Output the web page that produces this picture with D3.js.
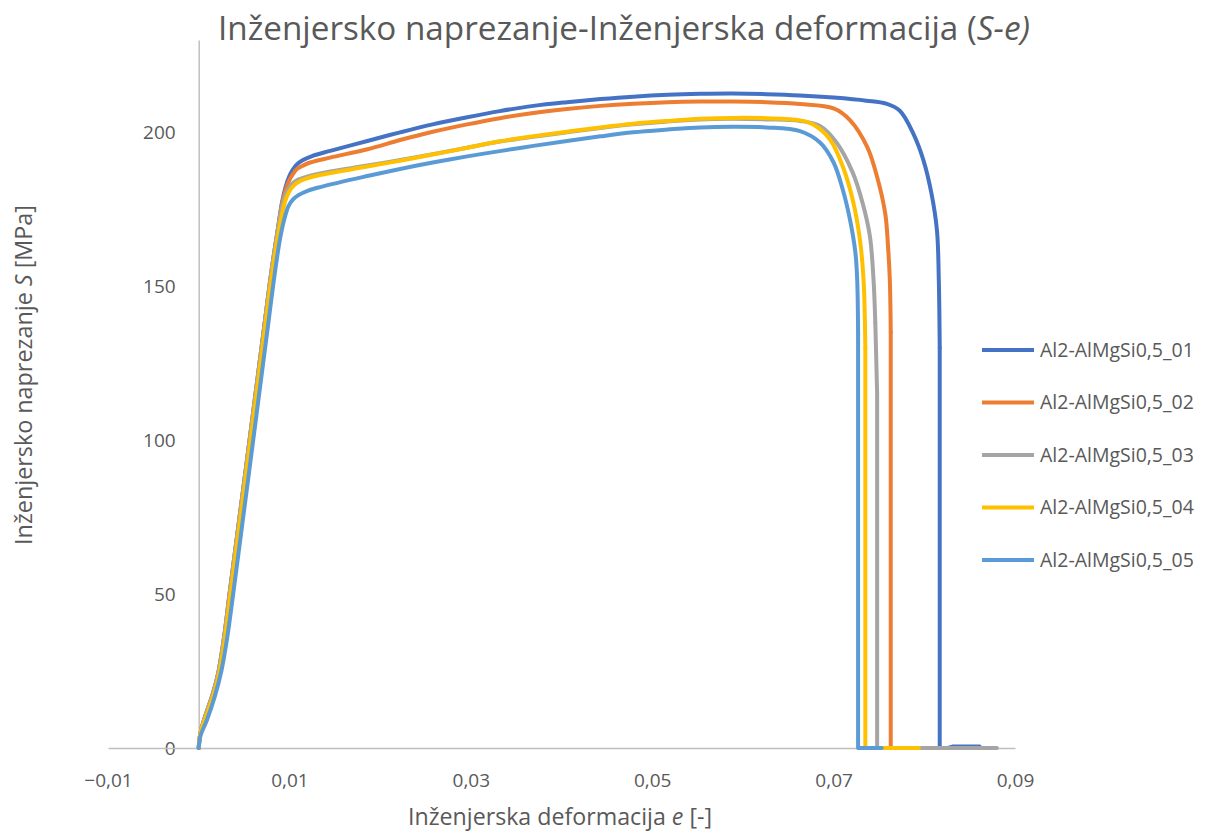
<!DOCTYPE html>
<html>
<head>
<meta charset="utf-8">
<script src="https://cdn.jsdelivr.net/npm/d3@7"></script>
<style>
  body { margin: 0; background: #fff; }
  text { font-family: "Open Sans", sans-serif; fill: #595959; }
</style>
</head>
<body>
<script>
// S-e krivulje, Al2-AlMgSi0,5 epruvete 01..05

var seriesNames = ["Al2-AlMgSi0,5_01", "Al2-AlMgSi0,5_02", "Al2-AlMgSi0,5_03", "Al2-AlMgSi0,5_04", "Al2-AlMgSi0,5_05"];
var seriesColors = ["#4472C4", "#ED7D31", "#A5A5A5", "#FFC000", "#5B9BD5"];

var xTicks = [-0.01, 0.01, 0.03, 0.05, 0.07, 0.09];
var yTicks = [0, 50, 100, 150, 200];

var strain01 = [0, 0.0002, 0.0008, 0.0016, 0.0022, 0.0028, 0.0034, 0.0044, 0.0053, 0.0062, 0.0071, 0.0080, 0.0087, 0.0092, 0.0096, 0.0100, 0.0104, 0.0108, 0.0115, 0.0125, 0.0145, 0.0186, 0.0222, 0.0258, 0.0296, 0.0332, 0.0369, 0.0406, 0.0443, 0.0479, 0.0517, 0.0553, 0.0589, 0.0626, 0.0663, 0.0700, 0.0736, 0.0758, 0.0773, 0.0788, 0.0799, 0.0808, 0.0814, 0.0816, 0.0817, 0.0817, 0.0826, 0.0832, 0.0861, 0.0862];
var stress01 = [0, 5, 11, 18, 25, 36, 50, 72.6, 93, 113.5, 134, 154.4, 168, 177.5, 182.5, 185.8, 188, 189.5, 191, 192.3, 194, 197.2, 200, 202.6, 204.9, 206.9, 208.6, 209.8, 210.8, 211.6, 212.2, 212.5, 212.6, 212.4, 212, 211.3, 210.3, 209.3, 207, 199.5, 191, 180, 168, 152, 130, 0, 0, 0.5, 0.5, 0];

var strain02 = [0, 0.0002, 0.0008, 0.0016, 0.0022, 0.0028, 0.0034, 0.0044, 0.0053, 0.0062, 0.0071, 0.0080, 0.0087, 0.0092, 0.0096, 0.0100, 0.0104, 0.0108, 0.0115, 0.0123, 0.0145, 0.0186, 0.0222, 0.0258, 0.0296, 0.0332, 0.0369, 0.0406, 0.0443, 0.0479, 0.0517, 0.0553, 0.0589, 0.0626, 0.0663, 0.0700, 0.0718, 0.0737, 0.0748, 0.0757, 0.0760, 0.0762, 0.0763, 0.0763, 0.0790];
var stress02 = [0, 5, 11, 18, 25, 36, 50, 72.6, 93, 113.5, 134, 154.4, 168, 177, 181.5, 184.5, 186.5, 188, 189.2, 190.2, 191.8, 194.5, 197.5, 200.2, 202.6, 204.6, 206.3, 207.6, 208.6, 209.3, 209.8, 210, 210, 209.8, 209.2, 207.8, 204, 195.3, 185.5, 173.5, 163, 152, 135, 0, 0];

var strain03 = [0, 0.0002, 0.0008, 0.0016, 0.0022, 0.0028, 0.0034, 0.0044, 0.0053, 0.0062, 0.0071, 0.0080, 0.0087, 0.0092, 0.0096, 0.0101, 0.0107, 0.0115, 0.0130, 0.0145, 0.0186, 0.0222, 0.0258, 0.0296, 0.0332, 0.0369, 0.0406, 0.0443, 0.0479, 0.0517, 0.0553, 0.0589, 0.0626, 0.0663, 0.0685, 0.0703, 0.0721, 0.0732, 0.0740, 0.0744, 0.0746, 0.0748, 0.0748, 0.0880];
var stress03 = [0, 5, 11, 18, 25, 36, 50, 72.6, 93, 113.5, 134, 154.4, 168, 176, 180, 182.6, 184.2, 185.2, 186.4, 187.3, 189.2, 191, 192.9, 195, 197, 198.6, 200, 201.4, 202.6, 203.5, 204.2, 204.4, 204.2, 203.7, 202.1, 196.8, 187, 177, 166.3, 152.2, 138, 115, 0, 0];

var strain04 = [0, 0.0002, 0.0009, 0.0017, 0.0023, 0.0029, 0.0035, 0.0045, 0.0054, 0.0063, 0.0072, 0.0081, 0.0088, 0.0093, 0.0097, 0.0102, 0.0108, 0.0116, 0.0130, 0.0145, 0.0186, 0.0222, 0.0258, 0.0296, 0.0332, 0.0369, 0.0406, 0.0443, 0.0479, 0.0517, 0.0553, 0.0589, 0.0626, 0.0663, 0.0677, 0.0696, 0.0710, 0.0721, 0.0729, 0.0733, 0.0735, 0.0735, 0.0794];
var stress04 = [0, 5, 11, 18, 25, 36, 50, 72.6, 93, 113.5, 134, 154.4, 167.5, 175, 179, 181.8, 183.5, 184.7, 185.9, 186.8, 188.9, 190.8, 192.8, 195, 197.1, 198.7, 200.2, 201.6, 202.8, 203.7, 204.4, 204.7, 204.6, 203.9, 202.6, 197.7, 189, 178.2, 165.2, 152.2, 130, 0, 0];

var strain05 = [0, 0.0002, 0.0009, 0.0018, 0.0025, 0.0031, 0.0038, 0.0048, 0.0057, 0.0066, 0.0075, 0.0084, 0.0090, 0.0095, 0.0099, 0.0104, 0.0110, 0.0120, 0.0135, 0.0186, 0.0222, 0.0258, 0.0296, 0.0332, 0.0369, 0.0406, 0.0443, 0.0479, 0.0517, 0.0553, 0.0589, 0.0626, 0.0663, 0.0685, 0.0700, 0.0710, 0.0718, 0.0724, 0.0726, 0.0727, 0.0727, 0.0753];
var stress05 = [0, 4, 9, 17, 25, 35, 50, 72.6, 93, 113.5, 134, 154.4, 166, 172.5, 176, 178.2, 179.6, 181, 182.3, 185.8, 188.1, 190.2, 192.2, 193.9, 195.6, 197.2, 198.7, 200, 200.9, 201.6, 201.8, 201.6, 200.4, 196.7, 190.2, 181.5, 171.7, 161, 152.2, 135, 0, 0];

var strains = [strain01, strain02, strain03, strain04, strain05];
var stresses = [stress01, stress02, stress03, stress04, stress05];

var W = 1227, H = 833;
var svg = d3.select("body").append("svg").attr("width", W).attr("height", H);

var x = d3.scaleLinear().domain([-0.01, 0.09]).range([108, 1015]);
var y = d3.scaleLinear().domain([0, 230]).range([748, 40]);

var fmtX = function (d) { return d3.format(".2f")(d).replace(".", ","); };

// y axis at e = 0
var yAxis = svg.append("g")
    .attr("transform", "translate(" + x(0) + ",0)")
    .call(d3.axisLeft(y).tickValues(yTicks).tickSize(0).tickPadding(23).tickFormat(d3.format("d")));
yAxis.select(".domain").attr("stroke", "#BFBFBF").attr("stroke-width", 1.5);
yAxis.selectAll("text").style("font-size", "19px").attr("fill", "#595959");

// x axis at S = 0
var xAxis = svg.append("g")
    .attr("transform", "translate(0," + y(0) + ")")
    .call(d3.axisBottom(x).tickValues(xTicks).tickSize(0).tickPadding(26).tickFormat(fmtX));
xAxis.select(".domain").attr("stroke", "#BFBFBF").attr("stroke-width", 1.5);
xAxis.selectAll("text").style("font-size", "19px").attr("fill", "#595959");

var smooth = d3.line()
    .x(function (d) { return x(d[0]); })
    .y(function (d) { return y(d[1]); })
    .curve(d3.curveCatmullRom.alpha(0.5));
var straight = d3.line()
    .x(function (d) { return x(d[0]); })
    .y(function (d) { return y(d[1]); });

for (var i = 0; i < strains.length; i++) {
    var pts = strains[i].map(function (e, k) { return [e, stresses[i][k]]; });
    // smooth up to the top of the vertical break, straight after it
    var peak = d3.maxIndex(pts, function (p) { return p[1]; });
    var cut = pts.findIndex(function (p, k) { return k > peak && p[1] < 140; });
    var g = svg.append("g")
        .attr("fill", "none")
        .attr("stroke", seriesColors[i])
        .attr("stroke-width", 4)
        .attr("stroke-linejoin", "round")
        .attr("stroke-linecap", "round");
    g.append("path").attr("d", smooth(pts.slice(0, cut + 1)));
    g.append("path").attr("d", straight(pts.slice(cut)));
}

// legend
var legend = svg.append("g");
for (var i = 0; i < seriesNames.length; i++) {
    var ly = 350 + i * 52.5;
    legend.append("line")
        .attr("x1", 982).attr("x2", 1034).attr("y1", ly).attr("y2", ly)
        .attr("stroke", seriesColors[i]).attr("stroke-width", 4);
    legend.append("text")
        .attr("x", 1040).attr("y", ly).attr("dy", "0.35em")
        .style("font-size", "19.5px")
        .text(seriesNames[i]);
}

// shrink/grow font so text spans the wanted width
function fitWidth(sel, target) {
    var fs = parseFloat(sel.style("font-size"));
    var w = sel.node().getComputedTextLength();
    sel.style("font-size", (fs * target / w).toFixed(2) + "px");
}

var title = svg.append("text")
    .attr("x", 624).attr("y", 40)
    .attr("text-anchor", "middle")
    .style("font-size", "27px");
title.append("tspan").text("Inženjersko naprezanje-Inženjerska deformacija (");
title.append("tspan").style("font-style", "italic").text("S-e)");
fitWidth(title, 812);

var xTitle = svg.append("text")
    .attr("x", 560).attr("y", 825)
    .attr("text-anchor", "middle")
    .style("font-size", "21px");
xTitle.append("tspan").text("Inženjerska deformacija ");
xTitle.append("tspan").style("font-style", "italic").text("e");
xTitle.append("tspan").text(" [-]");
fitWidth(xTitle, 304);

var yTitle = svg.append("text")
    .attr("transform", "translate(32,375) rotate(-90)")
    .attr("text-anchor", "middle")
    .style("font-size", "21px");
yTitle.append("tspan").text("Inženjersko naprezanje ");
yTitle.append("tspan").style("font-style", "italic").text("S");
yTitle.append("tspan").text(" [MPa]");
fitWidth(yTitle, 340);
</script>
</body>
</html>
